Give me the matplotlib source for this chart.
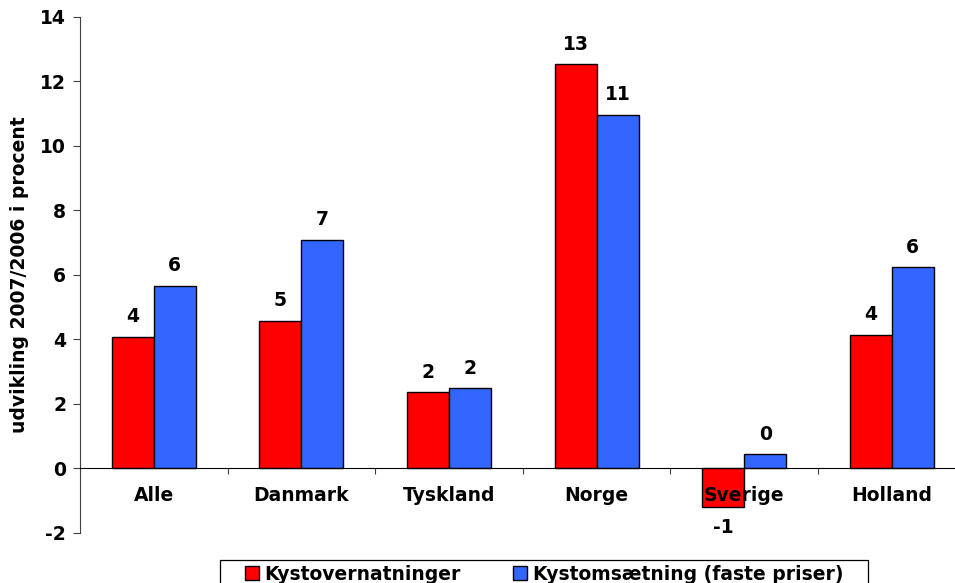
import matplotlib.pyplot as plt
import numpy as np
from matplotlib.patches import Rectangle

categories = ["Alle", "Danmark", "Tyskland", "Norge", "Sverige", "Holland"]
overnatninger = [4.08, 4.57, 2.36, 12.53, -1.21, 4.14]
omsaetning = [5.66, 7.08, 2.48, 10.96, 0.44, 6.24]
series_names = ["Kystovernatninger", "Kystomsætning (faste priser)"]

plt.rcParams["font.family"] = "DejaVu Sans"
plt.rcParams["font.weight"] = "bold"
plt.rcParams["axes.unicode_minus"] = False
fs = 13.5

fig = plt.figure(figsize=(9.55, 5.83), dpi=100)
ax = fig.add_axes([80 / 955, 50.3 / 583, 885.6 / 955, 516 / 583])

x = np.arange(len(categories))
w = 0.285
b1 = ax.bar(x - w / 2, overnatninger, w, color="#ff0000", edgecolor="black", linewidth=1.0,
            label=series_names[0])
b2 = ax.bar(x + w / 2, omsaetning, w, color="#3366ff", edgecolor="black", linewidth=1.0,
            label=series_names[1])
for bars, vals in ((b1, overnatninger), (b2, omsaetning)):
    ax.bar_label(bars, labels=[f"{v:.0f}" for v in vals], padding=7.5,
                 fontsize=fs, fontweight="bold")

ax.set_xlim(-0.5, 5.5)
ax.set_ylim(-2, 14)
ax.set_yticks(range(-2, 15, 2))
ax.tick_params(axis="y", labelsize=fs, length=5, color="#404040", pad=5)

ax.spines["top"].set_visible(False)
ax.spines["right"].set_visible(False)
ax.spines["left"].set_color("#404040")
ax.spines["bottom"].set_position(("data", 0))
ax.spines["bottom"].set_color("black")

ax.set_xticks(np.arange(0.5, 5.6, 1))
ax.set_xticklabels([])
ax.tick_params(axis="x", which="major", length=4.5, color="#404040", direction="out")
ax.set_xticks(x, minor=True)
ax.set_xticklabels(categories, minor=True)
ax.tick_params(axis="x", which="minor", length=0, pad=13, labelsize=fs)

fig.text(19.5 / 955, 0.528, "udvikling 2007/2006 i procent", rotation=90,
         ha="center", va="center", fontsize=fs, fontweight="bold")

fig.patches.append(Rectangle((220 / 955, -0.05), 648 / 955, 23 / 583 + 0.05,
                             transform=fig.transFigure, fill=False,
                             edgecolor="black", linewidth=0.9))
fig.legend(handles=[b1, b2], loc="center", bbox_to_anchor=(544 / 955, 9 / 583),
           ncol=2, frameon=False, fontsize=fs, handlelength=0.75, handleheight=0.75,
           handletextpad=0.3, columnspacing=2.8, borderpad=0)

fig.savefig("out.png", dpi=100)
